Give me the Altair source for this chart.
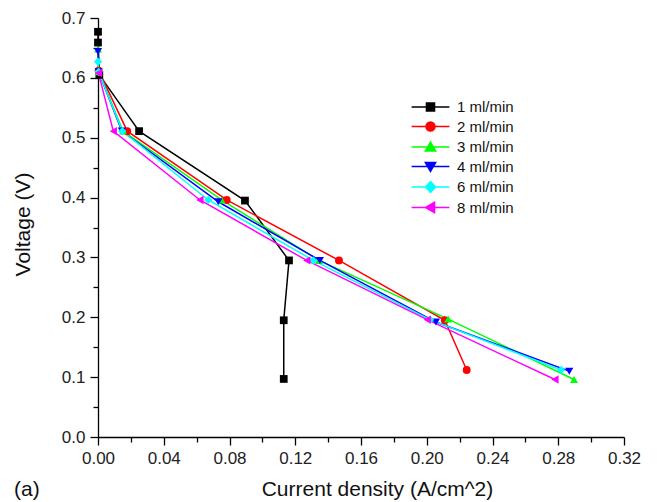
import altair as alt
import pandas as pd

flows = ["1 ml/min", "2 ml/min", "3 ml/min", "4 ml/min", "6 ml/min", "8 ml/min"]

current_1 = [0.0000, 0.0000, 0.0008, 0.0250, 0.0894, 0.1162, 0.1130, 0.1130]
voltage_1 = [0.677, 0.659, 0.605, 0.511, 0.395, 0.295, 0.195, 0.097]

current_2 = [0.0004, 0.0178, 0.0783, 0.1466, 0.2110, 0.2243]
voltage_2 = [0.612, 0.511, 0.396, 0.295, 0.195, 0.112]

current_3 = [0.0000, 0.0004, 0.0152, 0.0752, 0.1345, 0.2130, 0.2896]
voltage_3 = [0.648, 0.610, 0.511, 0.396, 0.295, 0.197, 0.096]

current_4 = [0.0000, 0.0004, 0.0145, 0.0732, 0.1350, 0.2056, 0.2867]
voltage_4 = [0.644, 0.610, 0.511, 0.393, 0.295, 0.192, 0.110]

current_6 = [0.0000, 0.0004, 0.0148, 0.0671, 0.1310, 0.2020, 0.2817]
voltage_6 = [0.627, 0.610, 0.511, 0.396, 0.295, 0.196, 0.112]

current_8 = [0.0003, 0.0093, 0.0620, 0.1270, 0.2003, 0.2780]
voltage_8 = [0.608, 0.511, 0.396, 0.295, 0.196, 0.096]

x_ticks = [0.00, 0.02, 0.04, 0.06, 0.08, 0.10, 0.12, 0.14, 0.16, 0.18, 0.20,
           0.22, 0.24, 0.26, 0.28, 0.30, 0.32]
y_ticks = [0.00, 0.05, 0.10, 0.15, 0.20, 0.25, 0.30, 0.35, 0.40, 0.45, 0.50,
           0.55, 0.60, 0.65, 0.70]

colors = ["#000000", "#ff0000", "#00ff00", "#0000ff", "#00ffff", "#ff00ff"]
shapes = ["square", "circle", "triangle-up", "triangle-down", "diamond", "triangle-left"]
sizes = [60, 70, 85, 85, 95, 85]
legend_shapes = [
    "M-4.2,0H4.2M-0.9,-0.9H0.9V0.9H-0.9Z",
    "M-4.2,0H4.2M-1,0A1,1,0,1,0,1,0A1,1,0,1,0,-1,0Z",
    "M-4.2,0H4.2M0,-1.1L1.15,0.9H-1.15Z",
    "M-4.2,0H4.2M0,1.1L1.15,-0.9H-1.15Z",
    "M-4.2,0H4.2M0,-1.2L1.1,0L0,1.2L-1.1,0Z",
    "M-4.2,0H4.2M-1.1,0L0.9,-1.15V1.15Z",
]

currents = [current_1, current_2, current_3, current_4, current_6, current_8]
voltages = [voltage_1, voltage_2, voltage_3, voltage_4, voltage_6, voltage_8]

rows = []
for name, xs, ys in zip(flows, currents, voltages):
    for i, (xv, yv) in enumerate(zip(xs, ys)):
        rows.append({"series": name, "idx": i, "current": xv, "voltage": yv})
df = pd.DataFrame(rows)

FONT = "Liberation Sans"

x_enc = alt.X(
    "current:Q",
    scale=alt.Scale(domain=[0, 0.32], nice=False, zero=False),
    axis=alt.Axis(
        values=x_ticks,
        labelExpr="round(datum.value*100) % 4 == 0 ? format(datum.value, '.2f') : ''",
        tickSize={"condition": {"test": "round(datum.value*100) % 4 == 0", "value": 8}, "value": 5},
        title="Current density (A/cm^2)",
        titleX=279,
        titleY=58,
        titleBaseline="alphabetic",
        labelFlush=False,
        labelOverlap=False,
        labelPadding=5,
        grid=False,
    ),
)
y_enc = alt.Y(
    "voltage:Q",
    scale=alt.Scale(domain=[0, 0.7], nice=False, zero=False),
    axis=alt.Axis(
        values=y_ticks,
        labelExpr="round(datum.value*100) % 10 == 0 ? format(datum.value, '.1f') : ''",
        tickSize={"condition": {"test": "round(datum.value*100) % 10 == 0", "value": 8}, "value": 5},
        title="Voltage (V)",
        titleX=-75,
        titleY=206,
        titleAngle=270,
        titleAlign="center",
        titleBaseline="middle",
        labelFlush=False,
        labelOverlap=False,
        labelPadding=5,
        grid=False,
    ),
)

color_scale = alt.Scale(domain=flows, range=colors)

base = alt.Chart(df)

lines = base.mark_line(strokeWidth=1.5).encode(
    x=x_enc,
    y=y_enc,
    color=alt.Color("series:N", scale=color_scale, legend=None),
    order=alt.Order("idx:Q"),
)

points = base.mark_point(filled=True, opacity=1).encode(
    x=x_enc,
    y=y_enc,
    color=alt.Color("series:N", scale=color_scale, legend=None),
    shape=alt.Shape("series:N", scale=alt.Scale(domain=flows, range=shapes), legend=None),
    size=alt.Size("series:N", scale=alt.Scale(domain=flows, range=sizes), legend=None),
)

visible = alt.layer(lines, points)

leg = alt.Legend(
    title=None,
    orient="none",
    legendX=325,
    legendY=81.5,
    symbolSize=81,
    symbolStrokeWidth=1.5,
    symbolOpacity=1,
    labelFontSize=15,
    labelFont=FONT,
    labelColor="#111111",
    labelOffset=19,
    rowPadding=3.5,
)

legend_layer = base.transform_filter("false").mark_point(filled=True, strokeWidth=1.5).encode(
    x=x_enc,
    y=y_enc,
    color=alt.Color("series:N", scale=color_scale, legend=leg),
    stroke=alt.Stroke("series:N", scale=alt.Scale(domain=flows, range=colors), legend=leg),
    shape=alt.Shape("series:N", scale=alt.Scale(domain=flows, range=legend_shapes), legend=leg),
)

chart = alt.layer(visible, legend_layer).resolve_scale(
    color="independent", shape="independent", stroke="independent"
).properties(
    width=526,
    height=419,
    autosize=alt.AutoSizeParams(type="none"),
    padding={"left": 90, "top": 10, "right": 25, "bottom": 64},
    title=alt.TitleParams(
        "(a)", orient="bottom", anchor="start", frame="group", fontSize=21,
        fontWeight="normal", font=FONT, color="#111111", dx=-84, dy=-24,
    ),
).configure_view(stroke=None).configure_axis(
    domainColor="#000000",
    domainWidth=1.3,
    tickColor="#000000",
    tickWidth=1.3,
    labelFont=FONT,
    labelFontSize=17,
    labelColor="#222222",
    titleFont=FONT,
    titleFontSize=21,
    titleFontWeight="normal",
    titleColor="#111111",
)

chart.save("out.html", embed_options={"renderer": "svg", "actions": False})
